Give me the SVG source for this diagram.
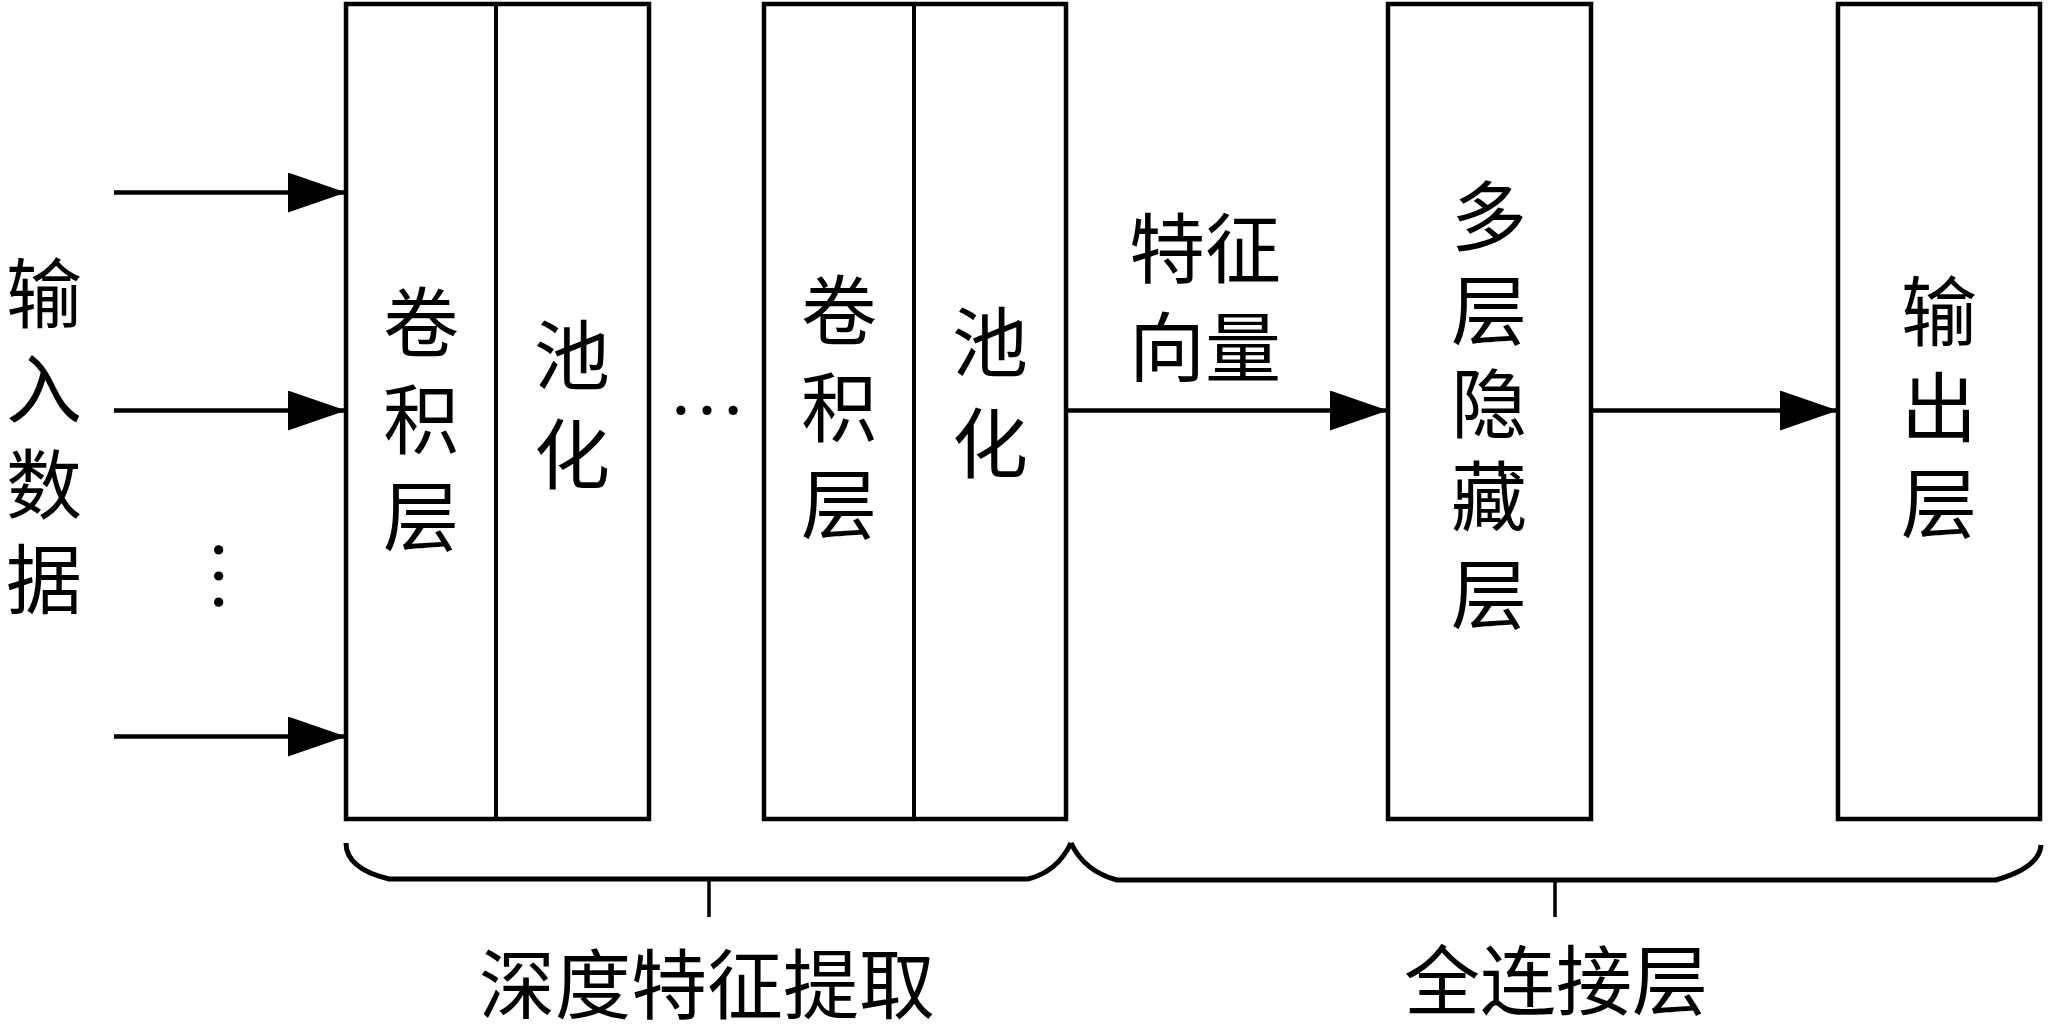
<svg xmlns="http://www.w3.org/2000/svg" width="2048" height="1036" viewBox="0 0 2048 1036">
<style>
  .box { fill: #ffffff; stroke: #000000; stroke-width: 4.5; }
  .div { stroke: #000000; stroke-width: 4; fill: none; }
  .cn { font-family: "Liberation Serif", "Noto Sans CJK SC", "Noto Sans CJK TC", serif; font-size: 76px; fill: #000000; text-anchor: middle; dominant-baseline: central; }
  .dots { font-family: "Liberation Serif", serif; font-size: 78px; fill: #000000; text-anchor: middle; }
  .arrow { stroke: #000000; stroke-width: 4.5; fill: none; marker-end: url(#ah); }
  .brace { stroke: #000000; stroke-width: 5; fill: none; stroke-linejoin: miter; }
  .tick { stroke: #000000; stroke-width: 3.5; fill: none; }
</style>
<defs>
  <marker id="ah" markerUnits="userSpaceOnUse" markerWidth="60" markerHeight="42" refX="58" refY="20" orient="auto">
    <path d="M0,0 L58,20 L0,40 Z" fill="#000000"/>
  </marker>
</defs>
<rect width="2048" height="1036" fill="#ffffff"/>

<g id="input-data">
  <text class="cn"><tspan x="44" y="296">输</tspan><tspan x="44" y="391">入</tspan><tspan x="44" y="487">数</tspan><tspan x="44" y="582">据</tspan></text>
  <text class="dots" x="0" y="4" transform="translate(219,576) rotate(90)">…</text>
</g>

<g id="conv-pool-1">
  <rect class="box" x="346" y="4" width="303" height="815"/>
  <line class="div" x1="496" y1="4" x2="496" y2="819"/>
  <text class="cn"><tspan x="421" y="325">卷</tspan><tspan x="421" y="422">积</tspan><tspan x="421" y="519">层</tspan></text>
  <text class="cn"><tspan x="572" y="358">池</tspan><tspan x="572" y="457">化</tspan></text>
</g>

<g id="ellipsis">
  <text class="dots" x="707" y="414">…</text>
</g>

<g id="conv-pool-2">
  <rect class="box" x="764" y="4" width="302" height="815"/>
  <line class="div" x1="914" y1="4" x2="914" y2="819"/>
  <text class="cn"><tspan x="839" y="313">卷</tspan><tspan x="839" y="410">积</tspan><tspan x="839" y="507">层</tspan></text>
  <text class="cn"><tspan x="990" y="345">池</tspan><tspan x="990" y="446">化</tspan></text>
</g>

<g id="feature-vector-label">
  <text class="cn"><tspan x="1205" y="251">特征</tspan><tspan x="1205" y="350">向量</tspan></text>
</g>

<g id="hidden-layers">
  <rect class="box" x="1388" y="4" width="203" height="815"/>
  <text class="cn"><tspan x="1489" y="219">多</tspan><tspan x="1489" y="313">层</tspan><tspan x="1489" y="406">隐</tspan><tspan x="1489" y="499">藏</tspan><tspan x="1489" y="597">层</tspan></text>
</g>

<g id="output-layer">
  <rect class="box" x="1838" y="4" width="202" height="815"/>
  <text class="cn"><tspan x="1939" y="314">输</tspan><tspan x="1939" y="410">出</tspan><tspan x="1939" y="506">层</tspan></text>
</g>

<g id="connectors">
  <line class="arrow" x1="114" y1="192.5" x2="346" y2="192.5"/>
  <line class="arrow" x1="114" y1="410.5" x2="346" y2="410.5"/>
  <line class="arrow" x1="114" y1="736.5" x2="346" y2="736.5"/>
  <line class="arrow" x1="1066" y1="410.5" x2="1388" y2="410.5"/>
  <line class="arrow" x1="1591" y1="410.5" x2="1838" y2="410.5"/>
</g>

<g id="brace-deep-features">
  <path class="brace" d="M346,843 C346,860 360,872 389,879 L1028,879 C1048,874 1062,862 1071,843"/>
  <line class="tick" x1="709" y1="879" x2="709" y2="917"/>
  <text class="cn" x="707" y="987">深度特征提取</text>
</g>

<g id="brace-fully-connected">
  <path class="brace" d="M1071,843 C1080,862 1094,874 1117,880 L1996,880 C2024,872 2040,860 2041,845"/>
  <line class="tick" x1="1555" y1="880" x2="1555" y2="917"/>
  <text class="cn" x="1556" y="983">全连接层</text>
</g>
</svg>
